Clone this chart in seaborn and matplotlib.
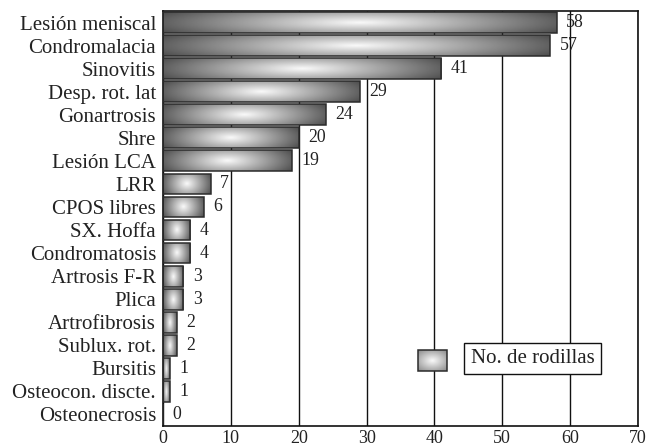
import numpy as np
import pandas as pd
import seaborn as sns
import matplotlib.pyplot as plt

# Hallazgos artroscópicos y número de rodillas en cada uno
categories = [
    "Lesión meniscal", "Condromalacia", "Sinovitis", "Desp. rot. lat",
    "Gonartrosis", "Shre", "Lesión LCA", "LRR", "CPOS libres", "SX. Hoffa",
    "Condromatosis", "Artrosis F-R", "Plica", "Artrofibrosis",
    "Sublux. rot.", "Bursitis", "Osteocon. discte.", "Osteonecrosis",
]
values = [58, 57, 41, 29, 24, 20, 19, 7, 6, 4, 4, 3, 3, 2, 2, 1, 1, 0]
x_ticks = [0, 10, 20, 30, 40, 50, 60, 70]
legend_label = "No. de rodillas"

sns.set_theme(style="white")
plt.rcParams["font.family"] = ["Liberation Serif", "DejaVu Serif"]
plt.rcParams["text.color"] = "#222222"


def shade(nx=240, ny=40):
    """Radial grey shading: bright centre, darker ends."""
    dx = np.linspace(-1, 1, nx)
    dy = np.linspace(-1, 1, ny)
    X, Y = np.meshgrid(dx, dy)
    r = np.sqrt(X ** 2 + 0.3 * Y ** 2)
    return np.clip(0.98 - 0.60 * r, 0, 1)


fig = plt.figure(figsize=(6.52, 4.48), dpi=100)
ax = fig.add_axes([163 / 652, 22 / 448, 475 / 652, 415 / 448])

df = pd.DataFrame({"hallazgo": categories, "rodillas": values})
sns.barplot(data=df, x="rodillas", y="hallazgo", orient="h", ax=ax,
            width=0.9, color="white", edgecolor="#2b2b2b", linewidth=1.1,
            zorder=3)

ax.set_xlim(0, 70)
ylim = ax.get_ylim()

grad = shade()
for patch in ax.patches:
    x0, y0 = patch.get_x(), patch.get_y()
    w, h = patch.get_width(), patch.get_height()
    patch.set_facecolor("none")
    if w <= 0:
        continue
    im = ax.imshow(grad, extent=[x0, x0 + w, y0 + h, y0], cmap="gray",
                   vmin=0, vmax=1, aspect="auto", interpolation="bilinear",
                   zorder=2.5)
    im.set_clip_path(patch)

ax.set_xlim(0, 70)
ax.set_ylim(ylim)

for cont in ax.containers:
    ax.bar_label(cont, padding=7, fontsize=12.8, color="#222222")

ax.set_xticks(x_ticks)
ax.set_xlabel("")
ax.set_ylabel("")
ax.tick_params(axis="x", length=0, pad=3, labelsize=13, labelcolor="#222222")
ax.tick_params(axis="y", length=0, pad=5, labelsize=15, labelcolor="#222222")

ax.set_axisbelow(True)
ax.xaxis.grid(True, color="#111111", linewidth=1.0)
ax.yaxis.grid(False)
for side, sp in ax.spines.items():
    sp.set_visible(True)
    sp.set_color("#111111")
    sp.set_linewidth(1.2)

# Legend: shaded swatch and framed label
sw = ax.imshow(grad[:, 60:180], extent=[0.537, 0.598, 0.1325, 0.183],
               transform=ax.transAxes, cmap="gray", vmin=0, vmax=1,
               aspect="auto", interpolation="bilinear", zorder=4)
ax.add_patch(plt.Rectangle((0.537, 0.1325), 0.061, 0.0505,
                           transform=ax.transAxes, facecolor="none",
                           edgecolor="#2b2b2b", linewidth=1.1, zorder=5))
ax.text(0.778, 0.1627, legend_label, transform=ax.transAxes,
        ha="center", va="center", fontsize=15, zorder=5,
        bbox=dict(boxstyle="square,pad=0.3", facecolor="white",
                  edgecolor="#111111", linewidth=1.0))
ax.set_xlim(0, 70)
ax.set_ylim(ylim)

fig.savefig("out.png", dpi=100)
